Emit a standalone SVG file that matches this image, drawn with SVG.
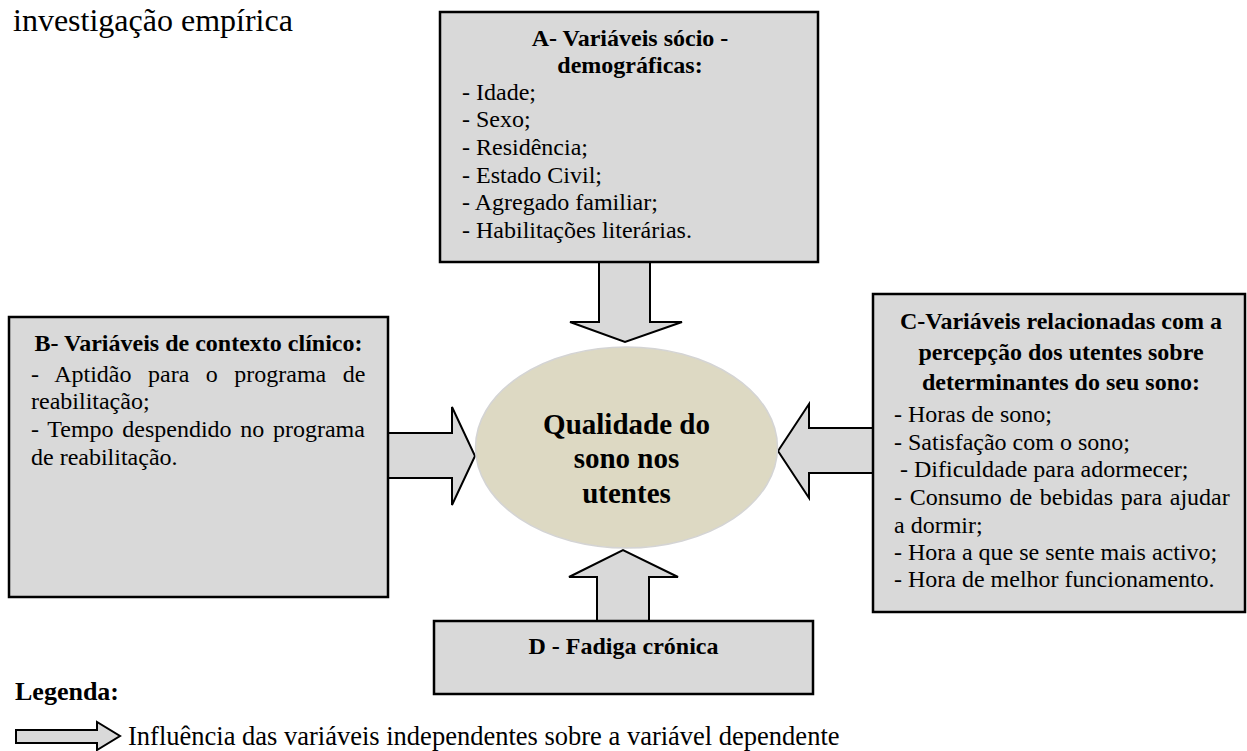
<svg xmlns="http://www.w3.org/2000/svg" width="1247" height="751" viewBox="0 0 1247 751" font-family="'Liberation Serif', 'Times New Roman', Times, 'DejaVu Serif', serif">
<style>
.box{fill:#d9d9d9;stroke:#000;stroke-width:2.5}
.arr{fill:#d9d9d9;stroke:#000;stroke-width:2;stroke-linejoin:miter}
text{font-family:'Liberation Serif','Times New Roman',Times,'DejaVu Serif',serif;fill:#000}
.t{font-size:24px}
.b{font-size:24px;font-weight:bold}
.c{text-anchor:middle}
</style>
<rect width="1247" height="751" fill="#fff"/>
<text x="13" y="31" font-family="Liberation Serif" style="font-size:32px">investigação empírica</text>
<g id="connectors">
<polygon class="arr" points="599,262 650,262 650,322 682,322 625,342 570,322 599,322"/>
<polygon class="arr" points="388,433 452,433 452,407 475,456 452,505 452,478 388,478"/>
<polygon class="arr" points="873,428 809,428 809,404 778,451 809,498 809,473 873,473"/>
<polygon class="arr" points="597,621 597,577 569,577 623,550 678,577 649,577 649,621"/>
</g>
<g id="nodeA">
<rect class="box" x="440" y="12" width="378" height="250"/>
<text class="b c" x="630" y="46">A- Variáveis sócio -</text>
<text class="b c" x="630" y="73">demográficas:</text>
<text class="t" x="462" y="100">- Idade;</text>
<text class="t" x="462" y="127">- Sexo;</text>
<text class="t" x="462" y="155">- Residência;</text>
<text class="t" x="462" y="183">- Estado Civil;</text>
<text class="t" x="462" y="210">- Agregado familiar;</text>
<text class="t" x="462" y="238">- Habilitações literárias.</text>
</g>
<g id="nodeB">
<rect class="box" x="9" y="317" width="379" height="280"/>
<text class="b c" x="198.5" y="351">B- Variáveis de contexto clínico:</text>
<text class="t" x="31" y="382" word-spacing="10.5">- Aptidão para o programa de</text>
<text class="t" x="31" y="409">reabilitação;</text>
<text class="t" x="31" y="437" word-spacing="2.7">- Tempo despendido no programa</text>
<text class="t" x="31" y="465">de reabilitação.</text>
</g>
<g id="nodeC">
<rect class="box" x="873" y="294" width="372" height="318"/>
<text class="b c" x="1061" y="329">C-Variáveis relacionadas com a</text>
<text class="b c" x="1061" y="360">percepção dos utentes sobre</text>
<text class="b c" x="1061" y="390">determinantes do seu sono:</text>
<text class="t" x="894" y="422">- Horas de sono;</text>
<text class="t" x="894" y="450">- Satisfação com o sono;</text>
<text class="t" x="900" y="477">- Dificuldade para adormecer;</text>
<text class="t" x="894" y="505" word-spacing="1.7">- Consumo de bebidas para ajudar</text>
<text class="t" x="894" y="533">a dormir;</text>
<text class="t" x="894" y="560">- Hora a que se sente mais activo;</text>
<text class="t" x="894" y="587">- Hora de melhor funcionamento.</text>
</g>
<g id="nodeD">
<rect class="box" x="434" y="621" width="379" height="73"/>
<text class="b c" x="623.5" y="654">D - Fadiga crónica</text>
</g>
<g id="center">
<ellipse cx="626.5" cy="447.5" rx="151" ry="100.5" fill="#ddd9c3" stroke="#d4d4d4" stroke-width="1.5"/>
<text class="c" x="626.5" y="434" style="font-size:29px;font-weight:bold">Qualidade do</text>
<text class="c" x="626.5" y="468" style="font-size:29px;font-weight:bold">sono nos</text>
<text class="c" x="626.5" y="503" style="font-size:29px;font-weight:bold">utentes</text>
</g>
<g id="legend">
<text x="15" y="700" style="font-size:26px;font-weight:bold">Legenda:</text>
<polygon class="arr" points="16,730 97,730 97,722 120,736 97,750 97,743 16,743"/>
<text x="128" y="745" style="font-size:26.5px">Influência das variáveis independentes sobre a variável dependente</text>
</g>
</svg>
